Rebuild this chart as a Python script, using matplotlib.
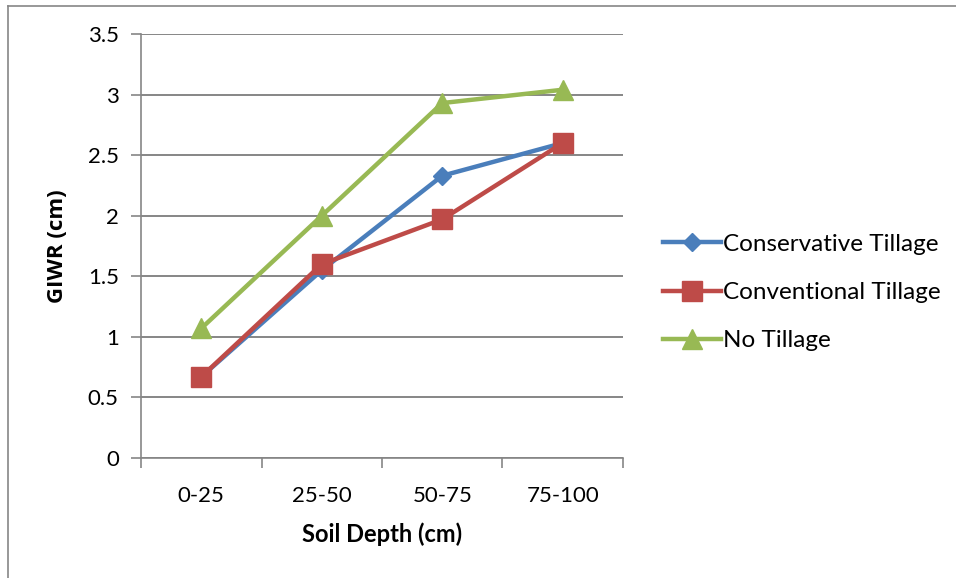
import matplotlib.pyplot as plt
from matplotlib.lines import Line2D

depths = ['0-25', '25-50', '50-75', '75-100']
conservative = [0.67, 1.55, 2.33, 2.60]
conventional = [0.67, 1.60, 1.97, 2.60]
no_tillage = [1.07, 2.00, 2.93, 3.04]

series = [
    ('Conservative Tillage', conservative, '#4A7EBB', 'D', 9),
    ('Conventional Tillage', conventional, '#BE4B48', 's', 14),
    ('No Tillage', no_tillage, '#98B954', '^', 14),
]

grey = '#868686'
plt.rcParams['font.family'] = ['Lato', 'DejaVu Sans']

fig = plt.figure(figsize=(9.56, 5.78), dpi=100)
ax = fig.add_axes([141 / 956, 1 - 458 / 578, (623 - 141) / 956, (458 - 34) / 578])

x = list(range(len(depths)))
for name, vals, col, mk, ms in series:
    ax.plot(x, vals, color=col, linewidth=3.2, marker=mk, markersize=ms,
            markerfacecolor=col, markeredgecolor=col, label=name)

ax.set_xlim(-0.5, len(depths) - 0.5)
ax.set_ylim(0, 3.5)
ax.set_yticks([0, 0.5, 1, 1.5, 2, 2.5, 3, 3.5])
ax.set_yticklabels(['0', '0.5', '1', '1.5', '2', '2.5', '3', '3.5'])
ax.set_xticks([i - 0.5 for i in range(len(depths) + 1)])
ax.set_xticklabels([])
ax.set_xticks(x, minor=True)
ax.set_xticklabels(depths, minor=True)
ax.tick_params(axis='x', which='major', length=7, width=1.2, color=grey, direction='out')
ax.tick_params(axis='x', which='minor', length=0, pad=20, labelsize=16)
ax.tick_params(axis='y', length=7, width=1.2, color=grey, direction='out', pad=9, labelsize=16)

ax.grid(axis='y', color=grey, linewidth=1.4)
ax.set_axisbelow(True)
for s in ['top', 'right']:
    ax.spines[s].set_visible(False)
for s in ['left', 'bottom']:
    ax.spines[s].set_color(grey)
    ax.spines[s].set_linewidth(1.2)

ax.set_xlabel('Soil Depth (cm)', fontsize=17, fontweight='bold', labelpad=12)
ax.set_ylabel('GIWR (cm)', fontsize=16, fontweight='bold', family='Open Sans', labelpad=14)

ax.legend(loc='center left', bbox_to_anchor=(1.047, 0.39), frameon=False, fontsize=17.5,
          handlelength=2.4, handletextpad=0.1, labelspacing=1.12, borderaxespad=0.3)

# outer chart frame (only left and top edges are visible)
fig.add_artist(Line2D([8 / 956, 8 / 956], [0, 1 - 6 / 578], color=grey, linewidth=1.2))
fig.add_artist(Line2D([8 / 956, 1], [1 - 6 / 578, 1 - 6 / 578], color=grey, linewidth=1.2))

plt.savefig('out.png')
